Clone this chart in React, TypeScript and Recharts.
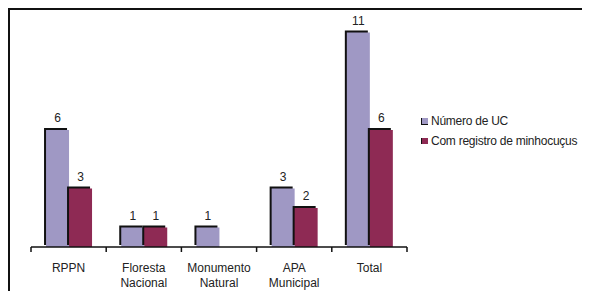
import React from "react";
import { BarChart, Bar, XAxis, YAxis, LabelList } from "recharts";

const categories = ["RPPN", "Floresta Nacional", "Monumento Natural", "APA Municipal", "Total"];
const tickLines: string[][] = [["RPPN"], ["Floresta", "Nacional"], ["Monumento", "Natural"], ["APA", "Municipal"], ["Total"]];
const numeroUC = [6, 1, 1, 3, 11];
const comRegistro: (number | null)[] = [3, 1, null, 2, 6];
const seriesNames = ["Número de UC", "Com registro de minhocuçus"];
const colors = ["#9F98C4", "#8E2A54"];

const data = categories.map((c, i) => ({ cat: c, idx: i, a: numeroUC[i], b: comRegistro[i] }));

const W = 582;
const H = 283;
const margin = { top: 5, right: 183, bottom: 0, left: 23 };
const plotW = W - margin.left - margin.right;
const band = plotW / categories.length;
const FONT = "'Liberation Sans', Arial, sans-serif";

const ShadowBar = (props: any) => {
  const { x, y, width, height, fill } = props;
  if (height == null || height <= 0) return null;
  return (
    <g>
      <rect x={x - 2} y={y - 2} width={width} height={height} fill="#111" />
      <rect x={x} y={y} width={width} height={height} fill={fill} />
    </g>
  );
};

const Tick = (props: any) => {
  const { x, y, index } = props;
  const lines = tickLines[index] || [];
  return (
    <g>
      <line x1={x - band / 2} y1={y - 8} x2={x - band / 2} y2={y - 3} stroke="#111" strokeWidth={1.5} />
      {index === categories.length - 1 && (
        <line x1={x + band / 2} y1={y - 8} x2={x + band / 2} y2={y - 3} stroke="#111" strokeWidth={1.5} />
      )}
      {lines.map((t, i) => (
        <text key={i} x={x} y={y + 17 + i * 15} textAnchor="middle" fontSize={12} fontFamily={FONT} fill="#222">
          {t}
        </text>
      ))}
    </g>
  );
};

const LegendContent = () => (
  <div style={{ fontFamily: FONT, fontSize: 12, color: "#222", whiteSpace: "nowrap", letterSpacing: -0.25 }}>
    {seriesNames.map((n, i) => (
      <div key={n} style={{ display: "flex", alignItems: "center", height: 20 }}>
        <span style={{ display: "inline-block", width: 6, height: 6, background: colors[i], borderLeft: "1.5px solid #111", borderBottom: i === 0 ? "1.5px solid #111" : "none", marginRight: 3 }} />
        <span>{n}</span>
      </div>
    ))}
  </div>
);

export default function App() {
  return (
    <div style={{ position: "relative", width: W, height: H }}>
      <div style={{ position: "absolute", left: 0, top: 0, width: W + 10, height: H + 10, borderTop: "2px solid #111", borderLeft: "2px solid #111", boxSizing: "border-box", pointerEvents: "none" }} />
      <div style={{ position: "absolute", left: 413, top: 103 }}>
        <LegendContent />
      </div>
      <BarChart width={W} height={H} data={data} margin={margin} barCategoryGap="20%" barGap={0}>
        <YAxis hide domain={[0, 12]} />
        <XAxis dataKey="cat" height={44} interval={0} axisLine={{ stroke: "#111", strokeWidth: 1.5 }} tickLine={false} tick={<Tick />} />
        <Bar dataKey="a" name={seriesNames[0]} fill={colors[0]} shape={<ShadowBar />} isAnimationActive={false}>
          <LabelList dataKey="a" position="top" offset={8} fontSize={12} fontFamily={FONT} fill="#222" />
        </Bar>
        <Bar dataKey="b" name={seriesNames[1]} fill={colors[1]} shape={<ShadowBar />} isAnimationActive={false}>
          <LabelList dataKey="b" position="top" offset={8} fontSize={12} fontFamily={FONT} fill="#222" />
        </Bar>
      </BarChart>
    </div>
  );
}
